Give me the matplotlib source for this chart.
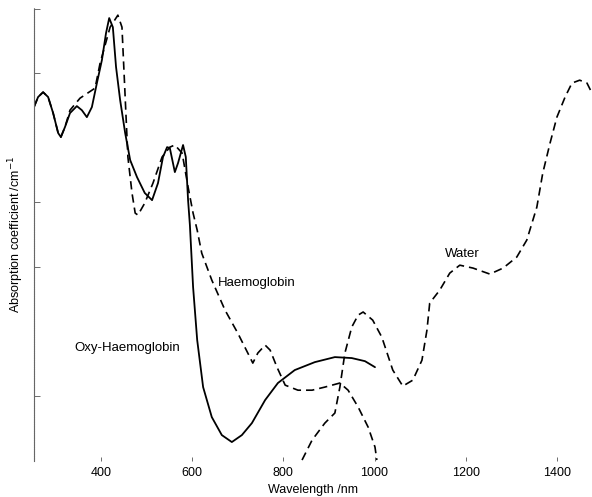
import numpy as np
import matplotlib
matplotlib.use("Agg")
import matplotlib.pyplot as plt

plt.rcParams["font.family"] = ["Liberation Sans", "DejaVu Sans"]

# wavelength (nm) and log10 absorption (arbitrary reference) for each curve
oxy_nm = [253, 262, 273, 284, 295, 306, 312, 321, 332, 347, 358, 369, 380, 391,
          402, 411, 418, 426, 433, 442, 453, 464, 479, 496, 512, 525, 536, 545,
          551, 562, 569, 580, 586, 591, 595, 602, 611, 624, 643, 665, 687, 709,
          731, 760, 788, 825, 869, 913, 950, 979, 1001]
oxy_abs = [0.491, 0.543, 0.568, 0.543, 0.460, 0.357, 0.336, 0.388, 0.460, 0.496,
           0.475, 0.439, 0.491, 0.615, 0.734, 0.873, 0.951, 0.904, 0.698, 0.527,
           0.357, 0.217, 0.129, 0.047, 0.010, 0.098, 0.233, 0.284, 0.279, 0.155,
           0.202, 0.295, 0.233, 0.010, -0.119, -0.439, -0.713, -0.956, -1.111,
           -1.204, -1.240, -1.204, -1.142, -1.023, -0.935, -0.868, -0.827,
           -0.801, -0.806, -0.822, -0.853]

hb_nm = [253, 262, 273, 284, 295, 306, 312, 321, 332, 354, 387, 398, 420, 437,
         446, 450, 455, 459, 468, 475, 481, 496, 514, 534, 551, 562, 578, 591,
         602, 611, 621, 643, 672, 700, 722, 733, 744, 760, 771, 786, 804, 832,
         863, 891, 924, 942, 964, 986, 1001, 1005]
hb_abs = [0.491, 0.543, 0.568, 0.543, 0.460, 0.357, 0.336, 0.388, 0.475, 0.537,
          0.589, 0.718, 0.904, 0.966, 0.904, 0.698, 0.439, 0.233, 0.047, -0.057,
          -0.067, -0.005, 0.098, 0.233, 0.284, 0.295, 0.253, 0.078, -0.057,
          -0.145, -0.264, -0.403, -0.558, -0.677, -0.780, -0.832, -0.780,
          -0.739, -0.765, -0.853, -0.946, -0.972, -0.972, -0.956, -0.935,
          -0.972, -1.059, -1.163, -1.266, -1.333]

water_nm = [841, 863, 891, 913, 924, 935, 950, 964, 975, 996, 1016, 1040, 1062,
            1084, 1104, 1115, 1121, 1143, 1165, 1187, 1216, 1253, 1282, 1312,
            1334, 1356, 1369, 1385, 1400, 1418, 1433, 1450, 1466, 1477]
water_abs = [-1.333, -1.230, -1.142, -1.090, -0.956, -0.780, -0.646, -0.584,
             -0.568, -0.610, -0.698, -0.868, -0.951, -0.920, -0.817, -0.661,
             -0.522, -0.455, -0.367, -0.326, -0.341, -0.372, -0.341, -0.284,
             -0.196, -0.026, 0.150, 0.305, 0.439, 0.543, 0.615, 0.630, 0.615,
             0.563]

xticks = [400, 600, 800, 1000, 1200, 1400]
yticks = [-1.0, -0.333, 0.0, 0.667, 1.0]

fig = plt.figure(figsize=(5.92, 4.97), dpi=100)
ax = fig.add_axes([0.0574, 0.0724, 0.9426, 0.9115])

ax.plot(oxy_nm, oxy_abs, color="black", lw=1.3,
        solid_joinstyle="round", solid_capstyle="round")
ax.plot(hb_nm, hb_abs, color="black", lw=1.2, dashes=(5, 3),
        dash_joinstyle="round")
ax.plot(water_nm, water_abs, color="black", lw=1.2, dashes=(5, 3),
        dash_joinstyle="round")

ax.text(657, -0.419, "Haemoglobin", fontsize=9.5, va="center")
ax.text(341, -0.755, "Oxy-Haemoglobin", fontsize=9.5, va="center")
ax.text(1154, -0.269, "Water", fontsize=9.5, va="center")

ax.set_xlim(253, 1477)
ax.set_ylim(-1.338, 1.003)

for s in ["top", "right", "bottom"]:
    ax.spines[s].set_visible(False)
ax.spines["left"].set_color("#666666")
ax.spines["left"].set_linewidth(0.8)
ax.spines["left"].set_linestyle((0, (1, 0.6)))

ax.set_xticks(xticks)
ax.set_xticklabels([str(t) for t in xticks], fontsize=9)
ax.set_yticks(yticks)
ax.set_yticklabels([])
ax.tick_params(axis="x", direction="in", length=3, width=0.6, color="#555555", pad=4)
ax.tick_params(axis="y", direction="in", length=4, width=0.6, color="#555555")

ax.set_xlabel("Wavelength /nm", fontsize=9, labelpad=4)
ax.set_ylabel("Absorption coefficient /cm$^{-1}$", fontsize=9)
ax.yaxis.set_label_coords(-0.014, 0.5)

fig.savefig("out.png", dpi=100)
